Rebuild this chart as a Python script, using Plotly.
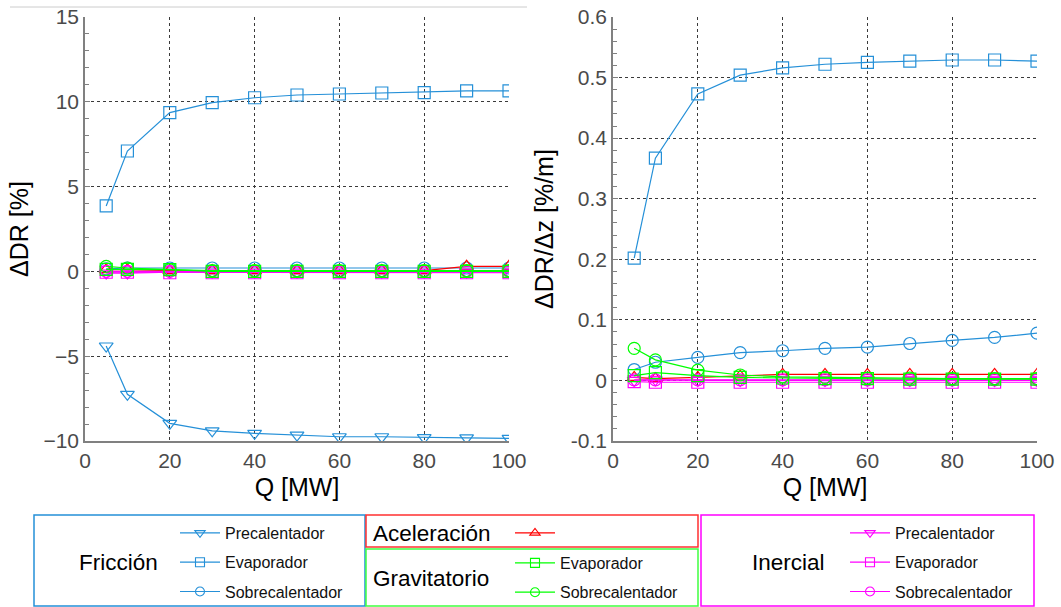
import plotly.graph_objects as go

# ---------------- data ----------------
Q = [5, 10, 20, 30, 40, 50, 60, 70, 80, 90, 100]

# Left panel: ΔDR [%]
fric_pre_L = [-4.4, -7.25, -8.96, -9.4, -9.55, -9.65, -9.75, -9.75, -9.8, -9.82, -9.85]
fric_evap_L = [3.86, 7.1, 9.36, 9.95, 10.24, 10.4, 10.46, 10.52, 10.54, 10.64, 10.64]
fric_sob_L = [0.15, 0.2, 0.2, 0.2, 0.2, 0.2, 0.2, 0.2, 0.2, 0.2, 0.2]
acel_L = [0.1, 0.1, 0.05, 0.05, 0.05, 0.05, 0.05, 0.05, 0.05, 0.3, 0.3]
grav_evap_L = [0.12, 0.12, 0.1, 0.0, 0.0, 0.0, 0.0, 0.0, 0.0, 0.0, 0.0]
grav_sob_L = [0.3, 0.2, 0.1, 0.05, 0.05, 0.05, 0.05, 0.05, 0.05, 0.05, 0.05]
iner_pre_L = [-0.1, -0.1, -0.05, -0.05, -0.05, -0.05, -0.05, -0.05, -0.05, -0.05, -0.05]
iner_evap_L = [-0.05, -0.05, -0.08, -0.08, -0.08, -0.08, -0.08, -0.08, -0.08, -0.08, -0.08]
iner_sob_L = [0.0, 0.0, 0.0, 0.0, 0.0, 0.0, 0.0, 0.0, 0.0, 0.0, 0.0]

# Right panel: ΔDR/Δz [%/m]
fric_evap_R = [0.202, 0.367, 0.473, 0.504, 0.516, 0.522, 0.525, 0.527, 0.529, 0.529, 0.527]
fric_sob_R = [0.018, 0.030, 0.038, 0.046, 0.049, 0.053, 0.055, 0.061, 0.066, 0.071, 0.078]
acel_R = [0.005, 0.003, 0.005, 0.007, 0.010, 0.010, 0.010, 0.010, 0.010, 0.010, 0.010]
grav_evap_R = [0.008, 0.013, 0.008, 0.005, 0.004, 0.003, 0.003, 0.002, 0.002, 0.002, 0.002]
grav_sob_R = [0.053, 0.034, 0.017, 0.009, 0.006, 0.005, 0.004, 0.004, 0.003, 0.003, 0.003]
iner_pre_R = [0.0, 0.001, 0.0, 0.0, 0.0, 0.0, 0.0, 0.0, 0.0, 0.0, 0.0]
iner_evap_R = [-0.002, -0.003, -0.003, -0.003, -0.003, -0.003, -0.003, -0.003, -0.003, -0.003, -0.003]
iner_sob_R = [0.001, 0.001, 0.001, 0.001, 0.001, 0.001, 0.001, 0.001, 0.001, 0.001, 0.001]

x_ticks = [0, 20, 40, 60, 80, 100]
yL_ticks = [-10, -5, 0, 5, 10, 15]
yR_ticks = [-0.1, 0, 0.1, 0.2, 0.3, 0.4, 0.5, 0.6]
yR_labels = ["-0.1", "0", "0.1", "0.2", "0.3", "0.4", "0.5", "0.6"]

# ---------------- style ----------------
W, H = 1061, 607
BLUE = "#2590d8"
RED = "#ff0000"
GREEN = "#00ff00"
MAG = "#ff00ff"
FONT = "Liberation Sans, Arial, sans-serif"
TICKC = "#4a4a4a"
GRIDC = "#3a3a3a"
AXC = "#808080"

def px(x):
    return x / W

def py(y):
    return 1 - y / H

fig = go.Figure()

def add(x, y, color, symbol, xa, ya):
    fig.add_trace(go.Scatter(
        x=x, y=y, mode="lines+markers", xaxis=xa, yaxis=ya, showlegend=False,
        line=dict(color=color, width=1.2),
        marker=dict(symbol=symbol, size=12, color="rgba(0,0,0,0)",
                    line=dict(color=color, width=1.2)),
        hoverinfo="skip"))

# left panel
add(Q, fric_pre_L, BLUE, "triangle-down", "x", "y")
add(Q, fric_evap_L, BLUE, "square", "x", "y")
add(Q, fric_sob_L, BLUE, "circle", "x", "y")
add(Q, acel_L, RED, "triangle-up", "x", "y")
add(Q, iner_pre_L, MAG, "triangle-down", "x", "y")
add(Q, iner_evap_L, MAG, "square", "x", "y")
add(Q, iner_sob_L, MAG, "circle", "x", "y")
add(Q, grav_evap_L, GREEN, "square", "x", "y")
add(Q, grav_sob_L, GREEN, "circle", "x", "y")

# right panel
add(Q, fric_evap_R, BLUE, "square", "x2", "y2")
add(Q, fric_sob_R, BLUE, "circle", "x2", "y2")
add(Q, acel_R, RED, "triangle-up", "x2", "y2")
add(Q, iner_pre_R, MAG, "triangle-down", "x2", "y2")
add(Q, iner_evap_R, MAG, "square", "x2", "y2")
add(Q, iner_sob_R, MAG, "circle", "x2", "y2")
add(Q, grav_evap_R, GREEN, "square", "x2", "y2")
add(Q, grav_sob_R, GREEN, "circle", "x2", "y2")

# legend entries (no data, legend only)
def leg(name, color, symbol, legend, group):
    fig.add_trace(go.Scatter(
        x=[None], y=[None], mode="lines+markers", name=name, legend=legend,
        legendgroup=group, xaxis="x", yaxis="y",
        line=dict(color=color, width=1.2),
        marker=dict(symbol=symbol, size=9, color="rgba(0,0,0,0)",
                    line=dict(color=color, width=1.1))))

leg("Precalentador", BLUE, "triangle-down", "legend", "f1")
leg("Evaporador", BLUE, "square", "legend", "f2")
leg("Sobrecalentador", BLUE, "circle", "legend", "f3")
leg(" ", RED, "triangle-up", "legend2", "a1")
leg("Evaporador", GREEN, "square", "legend3", "g1")
leg("Sobrecalentador", GREEN, "circle", "legend3", "g2")
leg("Precalentador", MAG, "triangle-down", "legend4", "i1")
leg("Evaporador", MAG, "square", "legend4", "i2")
leg("Sobrecalentador", MAG, "circle", "legend4", "i3")

def legcfg(x, y):
    return dict(x=px(x), y=py(y), xanchor="left", yanchor="top",
                bgcolor="rgba(0,0,0,0)", borderwidth=0, itemwidth=40,
                tracegroupgap=5.5, font=dict(family=FONT, size=16, color="#111"),
                itemclick=False, itemdoubleclick=False)

common_x = dict(range=[0, 100], tickvals=x_ticks, showgrid=True, gridcolor=GRIDC,
                griddash="3px,3px", gridwidth=1, showline=True, linecolor=AXC,
                linewidth=1.5, ticks="", zeroline=False, automargin=False,
                tickfont=dict(family=FONT, size=21, color=TICKC),
                title=dict(text="Q [MW]", font=dict(family=FONT, size=25, color="#000"),
                           standoff=8))

fig.update_layout(
    width=W, height=H, margin=dict(l=0, r=0, t=0, b=0, autoexpand=False),
    paper_bgcolor="white", plot_bgcolor="white",
    xaxis=dict(domain=[px(85), px(509)], anchor="y", **common_x),
    xaxis2=dict(domain=[px(613), px(1037)], anchor="y2", **common_x),
    yaxis=dict(domain=[py(441), py(17)], anchor="x", range=[-10, 15], tickvals=yL_ticks,
               showgrid=True, gridcolor=GRIDC, griddash="3px,3px", gridwidth=1,
               showline=True, linecolor=AXC, linewidth=1.5, zeroline=False,
               ticks="inside", ticklen=5, tickcolor=AXC, automargin=False,
               minor=dict(dtick=1, ticks="inside", ticklen=4, tickcolor=AXC, showgrid=False),
               tickfont=dict(family=FONT, size=21, color=TICKC),
               title=dict(text="ΔDR [%]", font=dict(family=FONT, size=25, color="#000"),
                          standoff=8)),
    yaxis2=dict(domain=[py(441), py(17)], anchor="x2", range=[-0.1, 0.6],
                tickvals=yR_ticks, ticktext=yR_labels,
                showgrid=True, gridcolor=GRIDC, griddash="3px,3px", gridwidth=1,
                showline=True, linecolor=AXC, linewidth=1.5, zeroline=False,
                ticks="inside", ticklen=5, tickcolor=AXC, automargin=False,
                minor=dict(dtick=0.02, ticks="inside", ticklen=4, tickcolor=AXC, showgrid=False),
                tickfont=dict(family=FONT, size=21, color=TICKC),
                title=dict(text="ΔDR/Δz [%/m]", font=dict(family=FONT, size=25, color="#000"),
                           standoff=10)),
    legend=legcfg(175, 516),
    legend2=legcfg(510, 516),
    legend3=legcfg(510, 546),
    legend4=legcfg(845, 516),
)

# legend boxes
boxes = [
    (34, 515, 365, 606, BLUE),
    (366, 515, 698, 547, "#ff3030"),
    (366, 549, 698, 606, "#40ff40"),
    (701, 515, 1034, 606, MAG),
]
for x0, y0, x1, y1, c in boxes:
    fig.add_shape(type="rect", xref="paper", yref="paper",
                  x0=px(x0), x1=px(x1), y0=py(y1), y1=py(y0),
                  line=dict(color=c, width=1.5))

# thin line at top
fig.add_shape(type="line", xref="paper", yref="paper", x0=px(10), x1=px(527),
              y0=py(7), y1=py(7), line=dict(color="#cccccc", width=1))

# group titles
titles = [("Fricción", 118, 562, "center"), ("Aceleración", 371, 533, "left"),
          ("Gravitatorio", 371, 578, "left"), ("Inercial", 788, 562, "center")]
for t, x, y, anc in titles:
    fig.add_annotation(text=t, xref="paper", yref="paper", x=px(x), y=py(y),
                       xanchor=anc, yanchor="middle", showarrow=False,
                       font=dict(family=FONT, size=22.5, color="#000"))

fig.write_html("out.html")
